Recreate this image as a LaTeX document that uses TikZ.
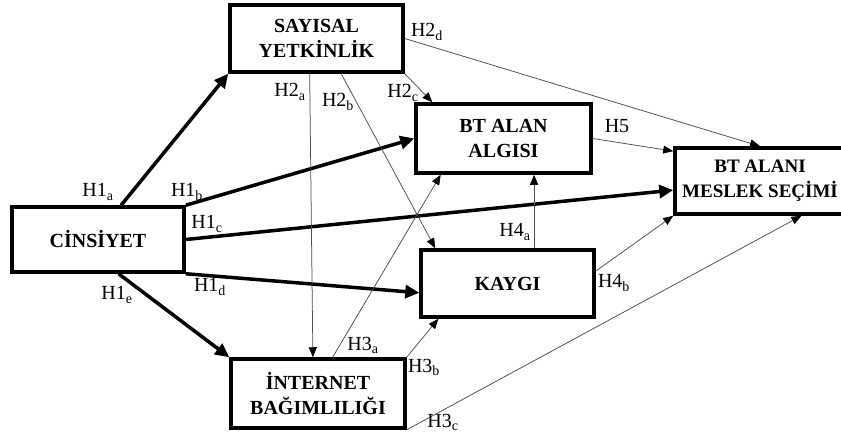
\documentclass[tikz,border=0pt]{standalone}
\usepackage{fontspec}
\setmainfont{Liberation Serif}
\usetikzlibrary{arrows.meta}

\tikzset{
    var/.style={draw, line width=3.5pt, fill=white, align=center, inner sep=0pt,
        font=\fontsize{20}{25}\selectfont\bfseries},
    strong/.style={line width=3.5pt, -{Triangle[length=14pt,width=13pt]}},
    weak/.style={line width=0.75pt, draw=black!70, -{Triangle[length=10pt,width=8pt,color=black]}},
    hyp/.style={font=\fontsize{20}{22}\selectfont, inner sep=0pt}
}

\begin{document}
\begin{tikzpicture}[x=1pt, y=-1pt]
    \useasboundingbox (0,0) rectangle (841,434);

    % draw boxes
    \node[var, minimum width=173pt, minimum height=67pt] (say) at (316.5,38.5) {SAYISAL\\YETKİNLİK};
    \node[var, minimum width=175pt, minimum height=69pt] (alan) at (503.5,138.5) {BT ALAN\\ALGISI};
    \node[var, minimum width=170pt, minimum height=66pt, font=\fontsize{19}{25}\selectfont\bfseries] (meslek) at (760,181) {BT ALANI\\MESLEK SEÇİMİ};
    \node[var, minimum width=172pt, minimum height=65pt] (cins) at (98,239.5) {CİNSİYET};
    \node[var, minimum width=173pt, minimum height=67pt] (kaygi) at (507.5,283.5) {KAYGI};
    \node[var, minimum width=174pt, minimum height=69pt] (inet) at (318,393.5) {İNTERNET\\BAĞIMLILIĞI};

    % draw H1 paths
    \draw[strong] (cins.56) -- (say.south west);
    \draw[strong] (cins.north east) -- (alan.west);
    \draw[strong] (cins.east) -- (meslek.186);
    \draw[strong] (cins.south east) -- (kaygi.186);
    \draw[strong] (cins.301) -- (inet.north west);

    % draw H2 paths
    \draw[weak] (say.259) -- (inet.98);
    \draw[weak] (say.305) -- (kaygi.154);
    \draw[weak] (say.south east) -- (alan.153);
    \draw[weak] (say.east) -- (meslek.north);

    % draw H3, H4, H5 paths
    \draw[weak] (inet.68) -- (alan.210);
    \draw[weak] (inet.north east) -- (kaygi.207);
    \draw[weak] (inet.south east) -- (meslek.320);
    \draw[weak] (kaygi.53) -- (kaygi.53 |- alan.south);
    \draw[weak] (kaygi.8) -- (meslek.south west);
    \draw[weak] (alan.east) -- (meslek.161);

    % label hypotheses
    \node[hyp] (h1a) at (98,192) {H1\textsubscript{a}};
    \node[hyp] (h1b) at (187,192) {H1\textsubscript{b}};
    \node[hyp] (h1c) at (207,224) {H1\textsubscript{c}};
    \node[hyp] (h1d) at (210,287) {H1\textsubscript{d}};
    \node[hyp] (h1e) at (117,295) {H1\textsubscript{e}};
    \node[hyp] (h2a) at (290,92) {H2\textsubscript{a}};
    \node[hyp] (h2b) at (338,102) {H2\textsubscript{b}};
    \node[hyp] (h2c) at (403,93) {H2\textsubscript{c}};
    \node[hyp] (h2d) at (427,32) {H2\textsubscript{d}};
    \node[hyp] (h3a) at (363,345) {H3\textsubscript{a}};
    \node[hyp] (h3b) at (424,367) {H3\textsubscript{b}};
    \node[hyp] (h3c) at (443,422) {H3\textsubscript{c}};
    \node[hyp] (h4a) at (515,232) {H4\textsubscript{a}};
    \node[hyp] (h4b) at (614,283) {H4\textsubscript{b}};
    \node[hyp] (h5) at (617,126) {H5};
\end{tikzpicture}
\end{document}
